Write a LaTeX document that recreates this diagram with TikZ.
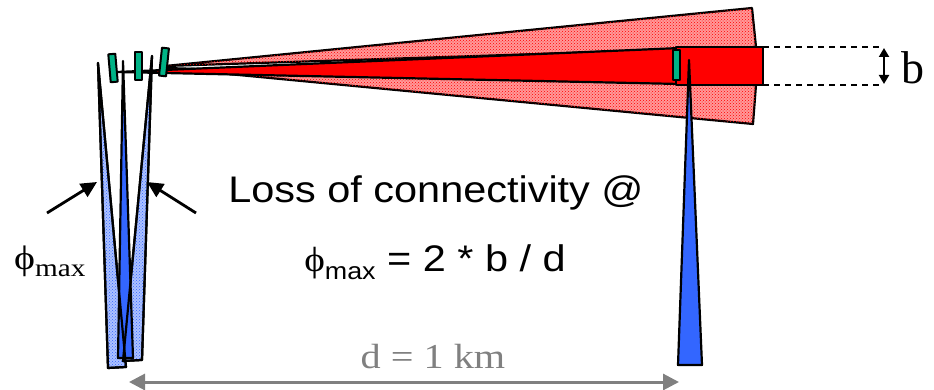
\documentclass[tikz,border=0pt]{standalone}
\usepackage{fontspec}
\usepackage{graphicx}
\setmainfont{Liberation Serif}
\setsansfont{Liberation Sans}
\newfontfamily\phifont{Liberation Serif}
\usetikzlibrary{arrows.meta,patterns}
\definecolor{tblue}{HTML}{3366FF}
\definecolor{tgreen}{HTML}{00B386}
\definecolor{tgray}{HTML}{808080}
\begin{document}
\begin{tikzpicture}[x=1pt,y=-1pt,line join=round,
  outl/.style={draw=black,line width=2.2pt},
  pinkbeam/.style={outl,fill=red!40,postaction={pattern=crosshatch dots,pattern color=red}},
  redbeam/.style={outl,fill=red},
  hatchtower/.style={outl,fill=tblue!40,postaction={pattern=crosshatch dots,pattern color=tblue}},
  solidtower/.style={outl,fill=tblue},
  antenna/.style={draw=black,line width=2pt,fill=tgreen,minimum width=7pt,minimum height=28pt,inner sep=0pt},
  pointer/.style={draw=black,line width=2.8pt,-{Triangle[length=16pt,width=15pt]}},
  dist/.style={draw=tgray,line width=3pt,{Triangle[length=16pt,width=16pt]}-{Triangle[length=16pt,width=16pt]}},
  dim/.style={draw=black,line width=1.6pt,dash pattern=on 6pt off 5pt},
  txt/.style={inner sep=0pt,anchor=base}
]
\useasboundingbox (0,0) rectangle (934,390);

% beams
\draw[pinkbeam] (165,66) -- (752,8) -- (756,47) -- cycle;
\draw[pinkbeam] (165,68) -- (756,85) -- (753,124) -- cycle;
\draw[redbeam] (117,72) -- (680,48) -- (680,84) -- cycle;
\draw[redbeam] (676,47) rectangle (763,85);

% left towers
\draw[hatchtower] (98,63) -- (126,367) -- (108,368) -- cycle;
\draw[hatchtower] (152,56) -- (142,360) -- (123,361) -- cycle;
\draw[solidtower] (123,61) -- (133,358) -- (118,358) -- cycle;
\draw[outl] (98,63) -- (126,367) -- (108,368) -- cycle;
\draw[outl] (152,56) -- (142,360) -- (123,361) -- cycle;

% right tower
\draw[solidtower] (689,60) -- (702,365) -- (678,365) -- cycle;

% antennas
\node[antenna,rotate=5] (a1) at (113,68) {};
\node[antenna] (a2) at (138,66) {};
\node[antenna,rotate=-6] (a3) at (164,62) {};
\node[antenna,minimum height=30pt] (a4) at (676,65) {};

% dimension b
\coordinate (bt) at (763,47);
\coordinate (bb) at (763,85);
\coordinate (bte) at (882,47);
\coordinate (bbe) at (882,85);
\draw[dim] (bt) -- (bte);
\draw[dim] (bb) -- (bbe);
\coordinate (bat) at (884,48);
\coordinate (bab) at (884,84);
\draw[line width=2pt,{Triangle[length=9pt,width=10pt]}-{Triangle[length=9pt,width=10pt]}] (bat) -- (bab);
\node[txt,font=\fontsize{46}{46}\selectfont] (blab) at (913,84) {b};

% pointers to phi
\coordinate (p1s) at (47,213);
\coordinate (p1e) at (97,182);
\coordinate (p2s) at (196,213);
\coordinate (p2e) at (147,182);
\draw[pointer] (p1s) -- (p1e);
\draw[pointer] (p2s) -- (p2e);

\node[txt,anchor=base west] (phil) at (14,269) {\scalebox{1.17}[1]{\fontsize{34}{34}\selectfont\phifont ϕ\raisebox{-7pt}{\fontsize{25}{25}\selectfont max}}};

% main text
\node[txt,font=\sffamily] (loss) at (436,203) {\scalebox{1.12}[1]{\fontsize{37}{40}\selectfont Loss of connectivity @}};
\node[txt,font=\sffamily] (form) at (435,271) {\scalebox{1.12}[1]{\fontsize{37}{40}\selectfont{\phifont\fontsize{35}{35}\selectfont ϕ}\raisebox{-8pt}{\fontsize{24}{24}\selectfont max} = 2 * b / d}};

% distance
\coordinate (dl) at (129,382);
\coordinate (dr) at (679,382);
\draw[dist] (dl) -- (dr);
\node[txt,text=tgray] (dlab) at (433,368) {\scalebox{1.15}[1]{\fontsize{35}{35}\selectfont d = 1 km}};
\end{tikzpicture}
\end{document}
